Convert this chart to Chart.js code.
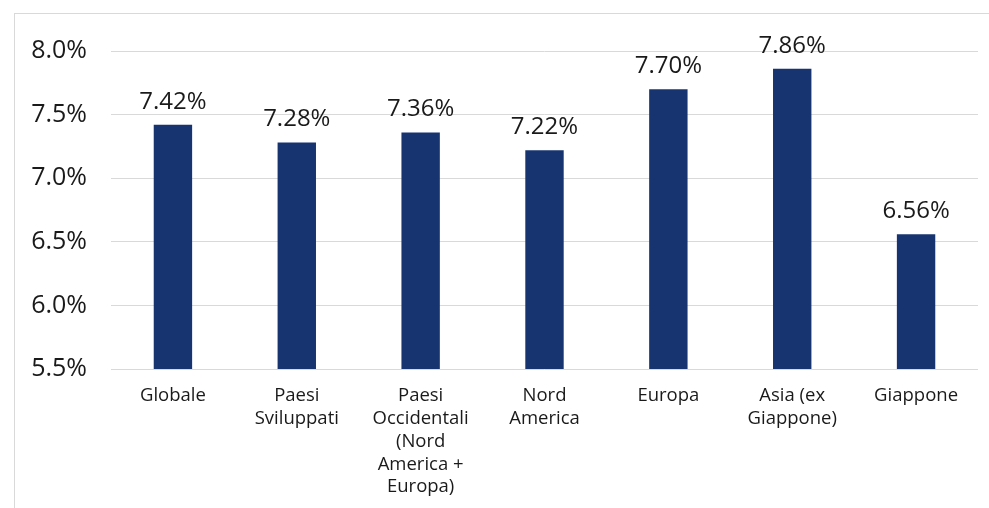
<!DOCTYPE html>
<html>
<head>
<meta charset="utf-8">
<script src="https://cdn.jsdelivr.net/npm/chart.js@4"></script>
<style>
  html, body { margin: 0; padding: 0; background: #fff; }
  #wrap { position: relative; width: 989px; height: 508px; }
  #frame { position: absolute; left: 14px; top: 13px; right: 0; bottom: 0;
           border-left: 1px solid #d9d9d9; border-top: 1px solid #d9d9d9; }
  canvas { position: absolute; left: 0; top: 0; }
</style>
</head>
<body>
<div id="wrap">
  <div id="frame"></div>
  <canvas id="chart" width="989" height="508"></canvas>
</div>
<script>
const categories = [
    'Globale',
    ['Paesi', 'Sviluppati'],
    ['Paesi', 'Occidentali', '(Nord', 'America +', 'Europa)'],
    ['Nord', 'America'],
    'Europa',
    ['Asia (ex', 'Giappone)'],
    'Giappone'
];
const values = [7.42, 7.28, 7.36, 7.22, 7.70, 7.86, 6.56];
const yTicks = [5.5, 6.0, 6.5, 7.0, 7.5, 8.0];

const FONT = "'Open Sans', 'Lato', sans-serif";

// draws the value above each bar
const valueLabels = {
    id: 'valueLabels',
    afterDatasetsDraw(chart) {
        const ctx = chart.ctx;
        const meta = chart.getDatasetMeta(0);
        ctx.save();
        ctx.font = '24px ' + FONT;
        ctx.fillStyle = '#1a1a1a';
        ctx.textAlign = 'center';
        ctx.textBaseline = 'middle';
        meta.data.forEach((bar, i) => {
            ctx.fillText(values[i].toFixed(2) + '%', bar.x, bar.y - 23);
        });
        ctx.restore();
    }
};

new Chart(document.getElementById('chart').getContext('2d'), {
    type: 'bar',
    data: {
        labels: categories,
        datasets: [{
            data: values,
            backgroundColor: '#173471',
            barPercentage: 0.62,
            categoryPercentage: 0.5
        }]
    },
    options: {
        responsive: false,
        animation: false,
        layout: { padding: { top: 51, right: 11, left: 0, bottom: 0 } },
        plugins: {
            legend: { display: false },
            tooltip: { enabled: false }
        },
        scales: {
            x: {
                grid: { display: false },
                border: { display: false },
                ticks: {
                    color: '#1a1a1a',
                    font: { family: FONT, size: 18.5, lineHeight: 1.24 },
                    maxRotation: 0,
                    autoSkip: false,
                    padding: 7
                },
                afterFit(scale) { scale.height = 139; }
            },
            y: {
                min: 5.5,
                max: 8.0,
                afterBuildTicks(scale) {
                    scale.ticks = yTicks.map(v => ({ value: v }));
                },
                grid: { color: '#d9d9d9', drawTicks: false, lineWidth: 1 },
                border: { display: false },
                ticks: {
                    color: '#1a1a1a',
                    font: { family: FONT, size: 25 },
                    padding: 24,
                    callback: v => v.toFixed(1) + '%'
                },
                afterFit(scale) { scale.width = 111; }
            }
        }
    },
    plugins: [valueLabels]
});
</script>
</body>
</html>
